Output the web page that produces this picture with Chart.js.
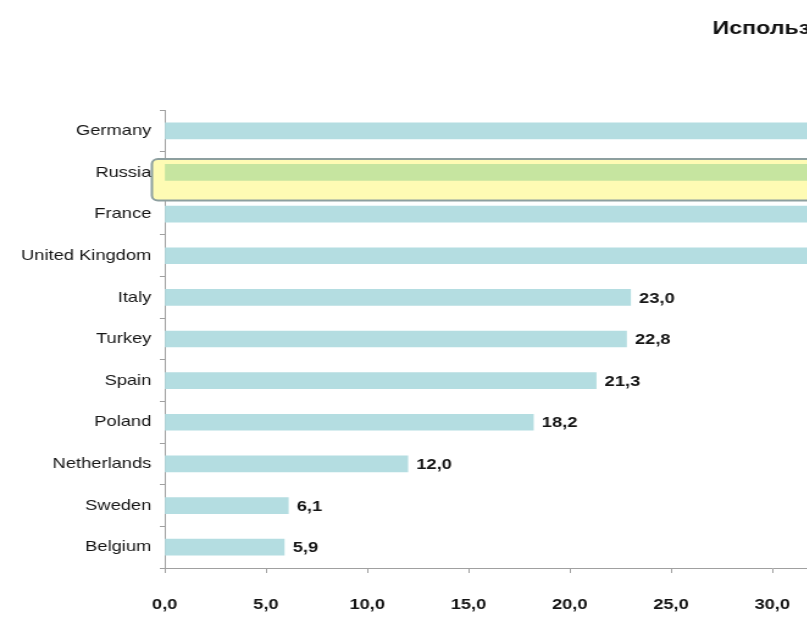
<!DOCTYPE html>
<html>
<head>
<meta charset="utf-8">
<script src="https://cdn.jsdelivr.net/npm/chart.js@4/dist/chart.umd.min.js"></script>
<style>
    html, body { margin: 0; padding: 0; background: #fff; overflow: hidden; width: 807px; height: 625px; }
    #wrap { position: absolute; left: 0; top: 0; transform: scaleX(1.22); transform-origin: 0 0; }
</style>
</head>
<body>
<div id="wrap"><canvas id="chart"></canvas></div>
<script>
const titleText = 'Использование интернета в Европе, млн. пользователей'
const countries = ['Germany', 'Russia', 'France', 'United Kingdom', 'Italy', 'Turkey', 'Spain', 'Poland', 'Netherlands', 'Sweden', 'Belgium']
const users = [51.0, 50.8, 42.3, 36.9, 23.0, 22.8, 21.3, 18.2, 12.0, 6.1, 5.9]
const xTicks = [0, 5, 10, 15, 20, 25, 30, 35, 40, 45, 50, 55, 60]
const highlight = 'Russia'

const fontFamily = "'Liberation Sans', Arial, sans-serif"
const fmt = v => v.toFixed(1).replace('.', ',')

// canvas is wider than the window, the right part is cut off like in the picture
let mc = document.createElement('canvas').getContext('2d')
mc.font = 'bold 19px ' + fontFamily
let tw = mc.measureText(titleText).width
let W = Math.round(2 * 584 + tw)
let axisLeft = 135
let chartRight = axisLeft + 60 * 16.6

let canvas = document.getElementById('chart')
canvas.width = W
canvas.height = 625

// yellow frame behind the highlighted bar
const highlightBox = {
    id: 'highlightBox',
    beforeDatasetsDraw(chart) {
        let i = countries.indexOf(highlight)
        let bar = chart.getDatasetMeta(0).data[i]
        let ctx = chart.ctx
        let left = bar.base - 11, top = bar.y - 13.5
        ctx.save()
        ctx.beginPath()
        ctx.roundRect(left, top, bar.x - left, 41.5, 5)
        ctx.fillStyle = '#fefbb4'
        ctx.fill()
        ctx.lineWidth = 2
        ctx.strokeStyle = '#8d9f9f'
        ctx.stroke()
        ctx.restore()
    }
}

const valueLabels = {
    id: 'valueLabels',
    afterDatasetsDraw(chart) {
        let ctx = chart.ctx
        ctx.save()
        ctx.font = 'bold 15px ' + fontFamily
        ctx.fillStyle = '#151515'
        ctx.textAlign = 'left'
        ctx.textBaseline = 'middle'
        chart.getDatasetMeta(0).data.forEach((bar, i) => {
            ctx.fillText(fmt(users[i]), bar.x + 7, bar.y + 1)
        })
        ctx.restore()
    }
}

new Chart(canvas, {
    type: 'bar',
    data: {
        labels: countries,
        datasets: [{
            data: users,
            backgroundColor: countries.map(c => c === highlight ? '#c6e5a0' : '#b4dde1'),
            barThickness: 16
        }]
    },
    options: {
        indexAxis: 'y',
        responsive: false,
        animation: false,
        events: [],
        layout: { padding: 0 },
        plugins: {
            legend: { display: false },
            tooltip: { enabled: false },
            title: {
                display: true,
                text: titleText,
                color: '#111',
                font: { family: fontFamily, size: 19, weight: 'bold' },
                padding: { top: 17, bottom: 70.2 }
            }
        },
        scales: {
            x: {
                min: 0,
                max: 60,
                afterBuildTicks: s => { s.ticks = xTicks.map(v => ({ value: v })) },
                afterFit: s => { s.height = 57; s.paddingRight = W - chartRight },
                grid: { drawOnChartArea: false, tickLength: 5, color: '#a0a0a0' },
                border: { color: '#a0a0a0' },
                ticks: {
                    padding: 23,
                    color: '#151515',
                    font: { family: fontFamily, size: 15, weight: 'bold' },
                    callback: v => fmt(v)
                }
            },
            y: {
                afterFit: s => { s.width = axisLeft },
                grid: { drawOnChartArea: false, offset: true, tickLength: 4, color: '#a0a0a0' },
                border: { color: '#a0a0a0' },
                ticks: {
                    padding: 7,
                    color: '#151515',
                    font: { family: fontFamily, size: 15 }
                }
            }
        }
    },
    plugins: [highlightBox, valueLabels]
})
</script>
</body>
</html>
